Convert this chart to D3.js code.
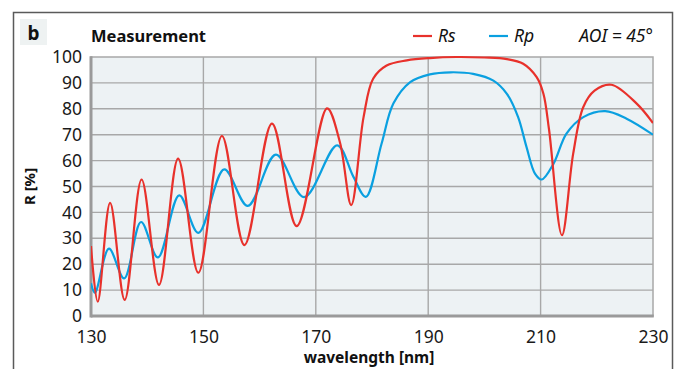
<!DOCTYPE html>
<html>
<head>
<meta charset="utf-8">
<script src="https://cdn.jsdelivr.net/npm/d3@7"></script>
<style>
  html, body { margin: 0; padding: 0; background: #fff; }
  svg { display: block; font-family: "Noto Sans", "Open Sans", sans-serif; }
</style>
</head>
<body>
<svg id="chart" width="678" height="369"></svg>
<script>
// Measured reflectance spectra (wavelength in nm, R in %)
const rsWavelength = [130, 131.2, 133.4, 136.0, 139.0, 142.1, 145.5, 149.1, 153.3, 157.3, 162.2, 166.6, 172.0, 174.3, 176.3, 178.5, 180.2, 182.6, 186.2, 190.3, 195, 200, 204, 206.9, 209.3, 210.5, 211.5, 213.8, 215.8, 217.6, 219.6, 222.6, 227.1, 230];
const rsValues     = [27, 5.5, 43.7, 6.2, 52.7, 12, 60.8, 16.7, 69.5, 27.4, 74.3, 34.7, 80.2, 67, 42.8, 76.8, 91.6, 96.7, 98.7, 99.6, 100, 99.8, 99.2, 97.4, 92.2, 85.8, 72, 31.2, 62.7, 80.7, 87, 89.3, 82, 74.5];

const rpWavelength = [130, 130.7, 133.2, 135.9, 138.9, 141.9, 145.7, 149.1, 153.7, 157.9, 162.9, 167.9, 173.8, 176.7, 178.9, 181.7, 183.8, 186.8, 190.3, 194, 198, 201.6, 204, 206, 207.5, 209, 210.2, 212.3, 214.6, 217.6, 221.5, 225.3, 230];
const rpValues     = [12.6, 9, 26, 14.5, 36.3, 22.6, 46.6, 32.1, 56.6, 42.5, 62.3, 45.9, 65.9, 53.7, 46, 66.5, 82, 90.3, 93.3, 94.1, 93.5, 90.9, 85.8, 76.8, 65.2, 55, 52.7, 58.8, 70.4, 76.8, 79.1, 76.2, 70];

const xTicks = [130, 150, 170, 190, 210, 230];
const yTicks = [0, 10, 20, 30, 40, 50, 60, 70, 80, 90, 100];

const seriesNames = ["Rs", "Rp"];
const seriesColors = ["#e8312b", "#0aa0e0"];

const svg = d3.select("#chart");
const plot = { left: 91, right: 653, top: 57, bottom: 316 };

const x = d3.scaleLinear().domain([130, 230]).range([plot.left, plot.right]);
const y = d3.scaleLinear().domain([0, 100]).range([plot.bottom, plot.top]);

// outer frame
svg.append("rect")
  .attr("x", 13.5).attr("y", 12.5).attr("width", 659).attr("height", 370)
  .attr("fill", "none").attr("stroke", "#5a5a5a").attr("stroke-width", 1.5);

// panel letter
svg.append("rect")
  .attr("x", 20).attr("y", 19).attr("width", 27).attr("height", 26)
  .attr("fill", "#eef2f2");
svg.append("text")
  .attr("x", 33.5).attr("y", 40).attr("text-anchor", "middle")
  .attr("font-size", 19).attr("font-weight", "bold").attr("fill", "#111")
  .text("b");

// title
svg.append("text")
  .attr("x", 91).attr("y", 42)
  .attr("font-size", 16.5).attr("font-weight", "bold").attr("fill", "#111")
  .text("Measurement");

// plot background
svg.append("rect")
  .attr("x", plot.left).attr("y", plot.top)
  .attr("width", plot.right - plot.left).attr("height", plot.bottom - plot.top)
  .attr("fill", "#edf2f4").attr("stroke", "#a8a8a8").attr("stroke-width", 1.5);

// grid
const grid = svg.append("g");
grid.selectAll("line.h").data(yTicks.filter(d => d > 0 && d < 100)).join("line")
  .attr("x1", plot.left).attr("x2", plot.right)
  .attr("y1", d => y(d)).attr("y2", d => y(d))
  .attr("stroke", "#a8a8a8").attr("stroke-width", 1.4);
grid.selectAll("line.v").data(xTicks.filter(d => d > 130 && d < 230)).join("line")
  .attr("x1", d => x(d)).attr("x2", d => x(d))
  .attr("y1", plot.top).attr("y2", plot.bottom)
  .attr("stroke", "#a8a8a8").attr("stroke-width", 1.4);

// axes
const xAxis = d3.axisBottom(x).tickValues(xTicks).tickSize(0).tickPadding(10).tickFormat(d3.format("d"));
const yAxis = d3.axisLeft(y).tickValues(yTicks).tickSize(0).tickPadding(9).tickFormat(d3.format("d"));

const gx = svg.append("g").attr("transform", `translate(0,${plot.bottom})`).call(xAxis);
const gy = svg.append("g").attr("transform", `translate(${plot.left},0)`).call(yAxis);
[gx, gy].forEach(g => {
  g.select(".domain").remove();
  g.selectAll("text").attr("font-size", 17.5).attr("fill", "#1a1a1a")
    .attr("font-family", "'Noto Sans', 'Open Sans', sans-serif");
});
gx.selectAll("text").attr("dy", "0.95em");

// axis baselines
svg.append("line")
  .attr("x1", plot.left).attr("x2", plot.left)
  .attr("y1", plot.top - 0.75).attr("y2", plot.bottom + 1.5)
  .attr("stroke", "#9a9a9a").attr("stroke-width", 3);
svg.append("line")
  .attr("x1", plot.left).attr("x2", plot.right + 0.75)
  .attr("y1", plot.bottom).attr("y2", plot.bottom)
  .attr("stroke", "#9a9a9a").attr("stroke-width", 3);

// axis titles
svg.append("text")
  .attr("transform", `translate(35,${(plot.top + plot.bottom) / 2}) rotate(-90)`)
  .attr("text-anchor", "middle")
  .attr("font-size", 15).attr("font-weight", "bold").attr("fill", "#111")
  .text("R [%]");
svg.append("text")
  .attr("x", 369).attr("y", 363)
  .attr("text-anchor", "middle")
  .attr("font-size", 15.5).attr("font-weight", "bold").attr("fill", "#111")
  .text("wavelength [nm]");

// curves
const line = d3.line()
  .x(d => x(d[0]))
  .y(d => y(d[1]))
  .curve(d3.curveCatmullRom.alpha(0.5));

svg.append("clipPath").attr("id", "plotClip")
  .append("rect").attr("x", plot.left).attr("y", plot.top - 3)
  .attr("width", plot.right - plot.left).attr("height", plot.bottom - plot.top + 3);

const series = [
  { color: seriesColors[1], points: d3.zip(rpWavelength, rpValues) },
  { color: seriesColors[0], points: d3.zip(rsWavelength, rsValues) }
];

svg.append("g").attr("clip-path", "url(#plotClip)")
  .selectAll("path").data(series).join("path")
  .attr("d", d => line(d.points))
  .attr("fill", "none")
  .attr("stroke", d => d.color)
  .attr("stroke-width", 2.2)
  .attr("stroke-linejoin", "round");

// legend
const legendX = [413, 489];
const legend = svg.append("g");
seriesNames.forEach((name, i) => {
  legend.append("line")
    .attr("x1", legendX[i]).attr("x2", legendX[i] + 19)
    .attr("y1", 36).attr("y2", 36)
    .attr("stroke", seriesColors[i]).attr("stroke-width", 2.2);
  legend.append("text")
    .attr("x", legendX[i] + 25).attr("y", 42)
    .attr("font-size", 17.5).attr("font-style", "italic").attr("fill", "#111")
    .text(name);
});
legend.append("text")
  .attr("x", 653).attr("y", 42).attr("text-anchor", "end")
  .attr("font-size", 17.5).attr("font-style", "italic").attr("fill", "#111")
  .text("AOI = 45°");
</script>
</body>
</html>
